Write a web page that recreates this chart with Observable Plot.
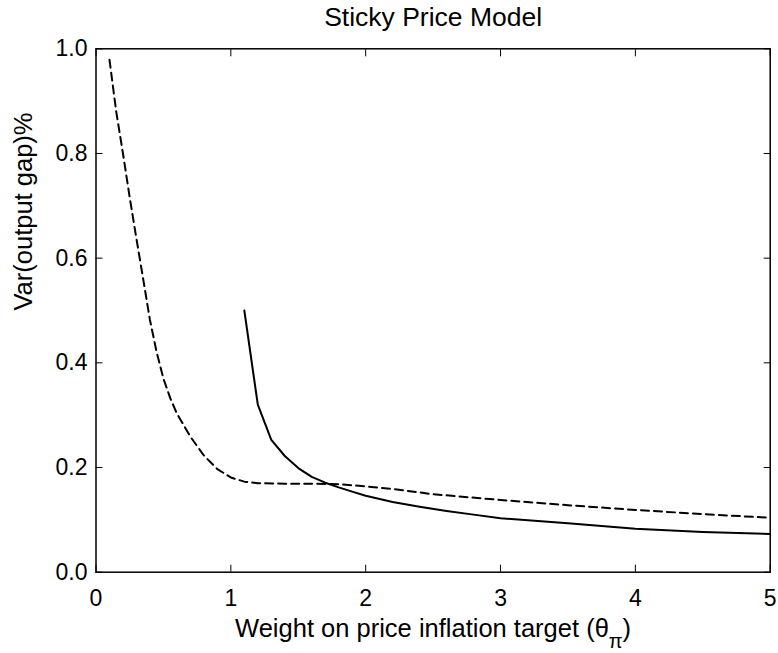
<!DOCTYPE html>
<html><head><meta charset="utf-8">
<script src="https://cdn.jsdelivr.net/npm/d3@7"></script>
<script src="https://cdn.jsdelivr.net/npm/@observablehq/plot@0.6"></script>
<style>body{margin:0;background:#fff}</style>
</head><body><div id="chart"></div>
<script>
const title = "Sticky Price Model";
const xLabel = "Weight on price inflation target (θπ)";
const yLabel = "Var(output gap)%";
const xTicks = [0, 1, 2, 3, 4, 5];
const yTicks = [0, 0.2, 0.4, 0.6, 0.8, 1.0];

// dashed series
const dashedX = [0.1, 0.15, 0.2, 0.25, 0.3, 0.35, 0.4, 0.45, 0.5, 0.55, 0.6, 0.7, 0.8, 0.9, 1.0, 1.1, 1.2, 1.4, 1.6, 1.8, 2.0, 2.2, 2.5, 3.0, 3.5, 4.0, 4.5, 5.0];
const dashedY = [0.979, 0.880, 0.800, 0.716, 0.637, 0.560, 0.482, 0.420, 0.370, 0.333, 0.303, 0.259, 0.223, 0.197, 0.181, 0.173, 0.170, 0.169, 0.169, 0.168, 0.164, 0.159, 0.149, 0.138, 0.128, 0.119, 0.111, 0.104];

// solid series
const solidX = [1.1, 1.2, 1.3, 1.4, 1.5, 1.6, 1.7, 1.8, 1.9, 2.0, 2.2, 2.4, 2.6, 2.8, 3.0, 3.5, 4.0, 4.5, 5.0];
const solidY = [0.500, 0.320, 0.253, 0.222, 0.199, 0.182, 0.171, 0.162, 0.154, 0.146, 0.134, 0.125, 0.117, 0.110, 0.103, 0.0935, 0.083, 0.077, 0.073];

const dashed = dashedX.map((x, i) => ({x, y: dashedY[i]}));
const solid = solidX.map((x, i) => ({x, y: solidY[i]}));

const chart = Plot.plot({
  width: 778, height: 653,
  marginLeft: 95.5, marginRight: 8.3, marginTop: 48.3, marginBottom: 81.3,
  style: {fontFamily: "'Liberation Sans', Arial, sans-serif", fontSize: "23px", background: "#fff", color: "#000", overflow: "visible"},
  x: {domain: [0, 5]},
  y: {domain: [0, 1]},
  marks: [
    Plot.line(dashed, {x: "x", y: "y", stroke: "#000", strokeWidth: 2, strokeDasharray: "8,5"}),
    Plot.line(solid, {x: "x", y: "y", stroke: "#000", strokeWidth: 2}),
    Plot.axisX(xTicks, {anchor: "bottom", tickSize: 0, tickPadding: 17, tickFormat: d => String(d), label: null, fontSize: 23}),
    Plot.axisX(xTicks, {anchor: "bottom", tickSize: -7, tickFormat: () => "", label: null}),
    Plot.axisX(xTicks, {anchor: "top", tickSize: -7, tickFormat: () => "", label: null}),
    Plot.axisY(yTicks, {anchor: "left", tickSize: 0, tickPadding: 8.5, tickFormat: d => d.toFixed(1), label: null, fontSize: 23}),
    Plot.axisY(yTicks, {anchor: "left", tickSize: -7, tickFormat: () => "", label: null}),
    Plot.axisY(yTicks, {anchor: "right", tickSize: -7, tickFormat: () => "", label: null}),
    Plot.frame({stroke: "#000", strokeWidth: 1.5}),
    Plot.text([title], {frameAnchor: "top", lineAnchor: "middle", dy: -30.8, fontSize: 26.5, fill: "#000"}),
    Plot.text([xLabel], {frameAnchor: "bottom", lineAnchor: "middle", dy: 57, fontSize: 25.5, fill: "#000"}),
    Plot.text([yLabel], {frameAnchor: "left", lineAnchor: "middle", dx: -72.5, rotate: -90, fontSize: 25.5, fill: "#000"})
  ]
});
document.getElementById("chart").appendChild(chart);

// subscript π in the x label
d3.select(chart).selectAll("text").each(function() {
  if (this.textContent === xLabel) {
    const t = d3.select(this);
    t.text(null);
    t.append("tspan").text(xLabel.slice(0, -2));
    t.append("tspan").attr("dy", 11).attr("font-size", 20).text(xLabel.slice(-2, -1));
    t.append("tspan").attr("dy", -11).text(xLabel.slice(-1));
  }
});
</script>
</body></html>
